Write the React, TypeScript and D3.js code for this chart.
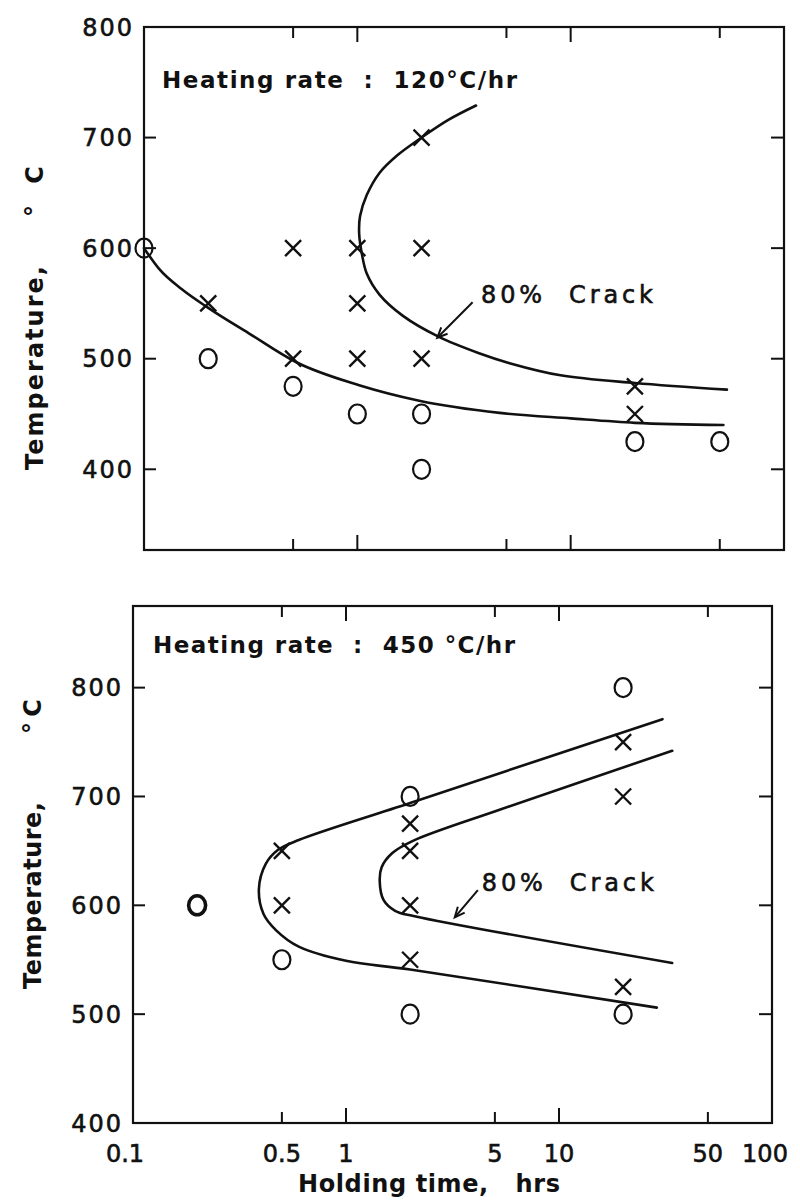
import React from 'react';
import * as d3 from 'd3';

// axis ticks
const hourTicks = [0.1, 0.5, 1, 5, 10, 50, 100];
const hourTickLabels = ['0.1', '0.5', '1', '5', '10', '50', '100'];
const majorHours = [1, 10];
const tempTicks = [400, 500, 600, 700, 800];

// heating rate 120 C/hr
const circleHours120 = [0.1, 0.2, 0.5, 1, 2, 2, 20, 50];
const circleTemps120 = [600, 500, 475, 450, 450, 400, 425, 425];
const crossHours120 = [0.2, 0.5, 0.5, 1, 1, 1, 2, 2, 2, 20, 20];
const crossTemps120 = [550, 600, 500, 600, 550, 500, 700, 600, 500, 475, 450];
const lowerHours120 = [0.1, 0.118, 0.15, 0.2, 0.31, 0.515, 1.02, 1.95, 4.65, 10, 20, 52];
const lowerTemps120 = [600, 581, 563, 546, 523, 497, 476, 462, 451, 446, 442, 440];
const crackHours120 = [3.6, 2.67, 2, 1.54, 1.27, 1.107, 1.03, 1.02, 1.05, 1.107, 1.27, 1.63, 2.4, 3.72, 5.17, 8.97, 20, 54];
const crackTemps120 = [729, 716, 700, 684, 668, 648, 629, 613, 595, 577, 558, 539, 520, 505, 496, 485, 478, 472];

// heating rate 450 C/hr
const circleHours450 = [0.2, 0.5, 2, 2, 20, 20];
const circleTemps450 = [600, 550, 700, 500, 800, 500];
const crossHours450 = [0.5, 0.5, 2, 2, 2, 2, 20, 20, 20];
const crossTemps450 = [650, 600, 675, 650, 600, 550, 750, 700, 525];
const outerHours450 = [30.6, 2, 0.6, 0.48, 0.42, 0.39, 0.41, 0.47, 0.6, 1, 2, 28.8];
const outerTemps450 = [771, 694, 660, 651, 638, 615, 592, 577, 562, 549, 541, 506];
const crackHours450 = [34, 5.3, 2.05, 1.65, 1.47, 1.44, 1.5, 1.7, 2.1, 34];
const crackTemps450 = [742, 688, 659, 648, 635, 622, 605, 595, 590, 547];

// "80% Crack" label and arrow (hours, temp)
const crackLabel120 = [3.8, 550];
const crackArrow120 = [[3.47, 551], [2.37, 519]];
const crackLabel450 = [4.34, 613];
const crackArrow450 = [[4.16, 614], [3.24, 589]];

const zip = (hs: number[], ts: number[]) => hs.map((h, i) => [h, ts[i]] as [number, number]);

const FONT = '"DejaVu Sans", sans-serif';

type Curve = { pts: [number, number][]; monotone?: boolean };

type PanelCfg = {
  heading: string;
  headingLen: number;
  headingDx: number;
  headingDy: number;
  xRange: [number, number];
  yDomain: [number, number];
  yRange: [number, number];
  circles: [number, number][];
  crosses: [number, number][];
  boldCircle?: number;
  curves: Curve[];
  label: number[];
  arrow: number[][];
  titleX: number;
  titleStart: number;
  titleLen: number;
  degY: number;
  cY: number;
  xLabels: boolean;
};

const panels: PanelCfg[] = [
  {
    heading: 'Heating rate  :  120°C/hr',
    headingLen: 355,
    headingDx: 18,
    headingDy: 61,
    xRange: [144, 784],
    yDomain: [327, 800],
    yRange: [550, 27],
    circles: zip(circleHours120, circleTemps120),
    crosses: zip(crossHours120, crossTemps120),
    curves: [
      { pts: zip(lowerHours120, lowerTemps120), monotone: true },
      { pts: zip(crackHours120, crackTemps120) },
    ],
    label: crackLabel120,
    arrow: crackArrow120,
    titleX: 43,
    titleStart: 470,
    titleLen: 204,
    degY: 211,
    cY: 175,
    xLabels: false,
  },
  {
    heading: 'Heating rate  :  450 °C/hr',
    headingLen: 362,
    headingDx: 20,
    headingDy: 47,
    xRange: [133, 772],
    yDomain: [400, 875],
    yRange: [1123, 606],
    circles: zip(circleHours450, circleTemps450),
    crosses: zip(crossHours450, crossTemps450),
    boldCircle: 0,
    curves: [{ pts: zip(outerHours450, outerTemps450) }, { pts: zip(crackHours450, crackTemps450) }],
    label: crackLabel450,
    arrow: crackArrow450,
    titleX: 41,
    titleStart: 989,
    titleLen: 187,
    degY: 728,
    cY: 708,
    xLabels: true,
  },
];

function Panel({ cfg }: { cfg: PanelCfg }) {
  const x = d3.scaleLog().domain([0.1, 100]).range(cfg.xRange);
  const y = d3.scaleLinear().domain(cfg.yDomain).range(cfg.yRange);
  const [left, right] = cfg.xRange;
  const [bottom, top] = cfg.yRange;
  const lineFor = (c: Curve) =>
    d3
      .line<[number, number]>()
      .x((d) => x(d[0]))
      .y((d) => y(d[1]))
      .curve(c.monotone ? d3.curveMonotoneX : d3.curveCatmullRom.alpha(0.5))(c.pts) || '';

  const innerTemps = tempTicks.filter((t) => t > cfg.yDomain[0] && t < cfg.yDomain[1]);
  const innerHours = hourTicks.filter((h) => h > 0.1 && h < 100);

  // arrow
  const [a0, a1] = cfg.arrow;
  const ax0 = x(a0[0]), ay0 = y(a0[1]), ax1 = x(a1[0]), ay1 = y(a1[1]);
  const ang = Math.atan2(ay1 - ay0, ax1 - ax0);
  const hl = 11, ha = 0.42;
  const head = `M${ax1 - hl * Math.cos(ang - ha)},${ay1 - hl * Math.sin(ang - ha)}L${ax1},${ay1}L${ax1 - hl * Math.cos(ang + ha)},${ay1 - hl * Math.sin(ang + ha)}`;

  return (
    <g>
      {/* frame */}
      <rect x={left} y={top} width={right - left} height={bottom - top} fill="none" stroke="#111" strokeWidth={2.2} />

      {/* temperature ticks, left and right, pointing inwards */}
      {innerTemps.map((t) => (
        <g key={'yt' + t}>
          <line x1={left} x2={left + 12} y1={y(t)} y2={y(t)} stroke="#111" strokeWidth={2} />
          <line x1={right} x2={right - 13} y1={y(t)} y2={y(t)} stroke="#111" strokeWidth={2} />
        </g>
      ))}
      {tempTicks
        .filter((t) => t >= cfg.yDomain[0] && t <= cfg.yDomain[1])
        .map((t) => (
          <text
            key={'yl' + t}
            x={left - 10}
            y={y(t)}
            dy="0.36em"
            textAnchor="end"
            fontSize={24}
            letterSpacing={2}
            fontFamily={FONT}
            stroke="#111"
            strokeWidth={0.6}
            fill="#111"
          >
            {t}
          </text>
        ))}

      {/* hour ticks, top and bottom */}
      {innerHours.map((h) => {
        const len = majorHours.includes(h) ? 15 : 11;
        return (
          <g key={'xt' + h}>
            <line x1={x(h)} x2={x(h)} y1={bottom} y2={bottom - len} stroke="#111" strokeWidth={2} />
            <line x1={x(h)} x2={x(h)} y1={top} y2={top + len} stroke="#111" strokeWidth={2} />
          </g>
        );
      })}
      {cfg.xLabels &&
        hourTicks.map((h, i) => (
          <text
            key={'xl' + h}
            x={x(h) + (h === 0.1 ? -8 : h === 100 ? -7 : 0)}
            y={bottom + 39}
            textAnchor="middle"
            fontSize={24}
            fontFamily={FONT}
            stroke="#111"
            strokeWidth={0.6}
            fill="#111"
          >
            {hourTickLabels[i]}
          </text>
        ))}
      {cfg.xLabels && (
        <text
          x={298}
          y={bottom + 69}
          fontSize={24}
          fontWeight="bold"
          fontFamily={FONT}
          textLength={262}
          lengthAdjust="spacing"
          style={{ whiteSpace: 'pre' }}
          fill="#111"
        >
          {'Holding time,   hrs'}
        </text>
      )}

      {/* y title */}
      <text
        transform={`translate(${cfg.titleX},${cfg.titleStart}) rotate(-90)`}
        fontSize={24}
        fontWeight="bold"
        fontFamily={FONT}
        textLength={cfg.titleLen}
        lengthAdjust="spacing"
        fill="#111"
      >
        Temperature,
      </text>
      <text
        transform={`translate(${cfg.titleX},${cfg.degY}) rotate(-90)`}
        fontSize={24}
        fontWeight="bold"
        fontFamily={FONT}
        textAnchor="middle"
        fill="#111"
      >
        °
      </text>
      <text
        transform={`translate(${cfg.titleX},${cfg.cY}) rotate(-90)`}
        fontSize={24}
        fontWeight="bold"
        fontFamily={FONT}
        textAnchor="middle"
        fill="#111"
      >
        C
      </text>

      {/* heading */}
      <text
        x={left + cfg.headingDx}
        y={top + cfg.headingDy}
        fontSize={23}
        fontWeight="bold"
        fontFamily={FONT}
        textLength={cfg.headingLen}
        lengthAdjust="spacing"
        style={{ whiteSpace: 'pre' }}
        fill="#111"
      >
        {cfg.heading}
      </text>

      {/* curves */}
      {cfg.curves.map((c, i) => (
        <path key={'c' + i} d={lineFor(c)} fill="none" stroke="#111" strokeWidth={2.6} strokeLinecap="round" />
      ))}

      {/* markers */}
      {cfg.circles.map((d, i) => (
        <ellipse
          key={'o' + i}
          cx={x(d[0])}
          cy={y(d[1])}
          rx={8.5}
          ry={9.5}
          fill="none"
          stroke="#111"
          strokeWidth={cfg.boldCircle === i ? 3.6 : 2.2}
        />
      ))}
      {cfg.crosses.map((d, i) => {
        const cx = x(d[0]), cy = y(d[1]), s = 8;
        return (
          <path
            key={'x' + i}
            d={`M${cx - s},${cy - s}L${cx + s},${cy + s}M${cx - s},${cy + s}L${cx + s},${cy - s}`}
            stroke="#111"
            strokeWidth={2.4}
            fill="none"
          />
        );
      })}

      {/* 80% Crack annotation */}
      <text
        x={x(cfg.label[0])}
        y={y(cfg.label[1])}
        fontSize={24}
        fontFamily={FONT}
        stroke="#111"
        strokeWidth={0.6}
        textLength={172}
        lengthAdjust="spacing"
        style={{ whiteSpace: 'pre' }}
        fill="#111"
      >
        {'80%  Crack'}
      </text>
      <line x1={ax0} y1={ay0} x2={ax1} y2={ay1} stroke="#111" strokeWidth={2} />
      <path d={head} fill="none" stroke="#111" strokeWidth={2} />
    </g>
  );
}

export default function App() {
  return (
    <svg
      width={800}
      height={1202}
      viewBox="0 0 800 1202"
      style={{ position: 'absolute', left: 0, top: 0, background: '#fff' }}
    >
      <rect width={800} height={1202} fill="#fff" />
      {panels.map((p, i) => (
        <Panel key={i} cfg={p} />
      ))}
    </svg>
  );
}
